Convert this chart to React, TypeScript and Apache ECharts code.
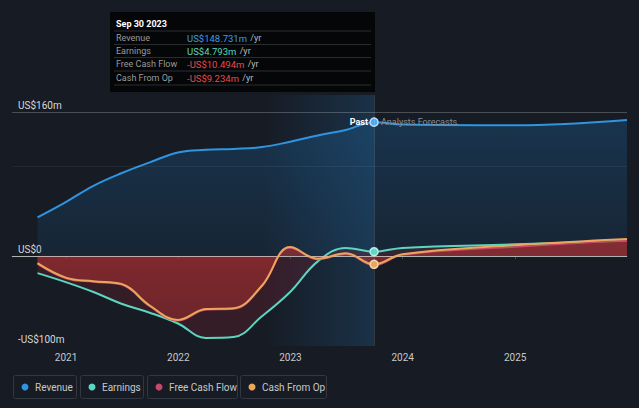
import React, { useEffect, useRef } from 'react';
import * as echarts from 'echarts';

const dates = [
  '2020-09-30', '2020-12-31', '2021-03-31', '2021-06-30', '2021-09-30', '2021-12-31',
  '2022-03-31', '2022-06-30', '2022-09-30', '2022-12-31', '2023-03-31', '2023-06-30',
  '2023-09-30', '2023-12-31', '2024-12-31', '2025-12-31',
];
const revenue = [43, 60, 78, 92, 104, 115, 118, 119, 121, 127, 134, 140, 148.731, 146, 145.2, 151];
const earnings = [-19, -29, -40, -53, -63, -75, -91, -90, -67, -40, -6, 9, 4.793, 9, 13, 17];
const freeCashFlow = [-9, -25, -29, -32, -56, -72, -60, -59, -34, 9, -4, 2, -10.494, 1, 10, 17.5];
const cashFromOp = [-8, -24, -28, -31, -55, -71, -59, -58, -33, 10, -3, 3, -9.234, 2, 12, 19];
const presentIndex = 12;
const yTickLabels: Record<string, string> = { '160': 'US$160m', '0': 'US$0', '-100': '-US$100m' };
const tooltipTitle = 'Sep 30 2023';
const tooltipRows = [
  { name: 'Revenue', value: 'US$148.731m', color: '#3d9be9' },
  { name: 'Earnings', value: 'US$4.793m', color: '#5ed6b9' },
  { name: 'Free Cash Flow', value: '-US$10.494m', color: '#e84a4a' },
  { name: 'Cash From Op', value: '-US$9.234m', color: '#e84a4a' },
];
const legendItems = [
  { name: 'Revenue', color: '#2f95e0' },
  { name: 'Earnings', color: '#5cd6c0' },
  { name: 'Free Cash Flow', color: '#c8476e' },
  { name: 'Cash From Op', color: '#eaa75a' },
];

const FONT = 'Roboto, "Open Sans", sans-serif';

function mk(values: number[], pointStyle: any) {
  return values.map((v, i) =>
    i === presentIndex
      ? { value: [dates[i], v], symbol: 'circle', symbolSize: 8, itemStyle: pointStyle }
      : { value: [dates[i], v] }
  );
}

export default function App() {
  const ref = useRef<HTMLDivElement>(null);
  useEffect(() => {
    const chart = echarts.init(ref.current!, null, { renderer: 'svg' });

    const graphics: any[] = [];
    // tooltip box
    graphics.push({ type: 'rect', shape: { x: 110, y: 12, width: 265, height: 80 }, style: { fill: '#050608' }, z: 100 });
    graphics.push({ type: 'text', x: 116, y: 24, style: { text: tooltipTitle, fill: '#ffffff', font: `bold 9px ${FONT}`, verticalAlign: 'middle' }, z: 101 });
    const rowY = [38, 51, 64, 78];
    const sepY = [31, 44.5, 57.5, 71, 85];
    sepY.forEach((y) => graphics.push({ type: 'line', shape: { x1: 114, y1: y, x2: 371, y2: y }, style: { stroke: '#2a2c30', lineWidth: 1 }, z: 101 }));
    tooltipRows.forEach((r, i) => {
      graphics.push({ type: 'text', x: 116, y: rowY[i], style: { text: r.name, fill: '#9a9a9a', font: `9px ${FONT}`, verticalAlign: 'middle' }, z: 101 });
      graphics.push({
        type: 'text', x: 187, y: rowY[i],
        style: {
          text: `{v|${r.value}} {u|/yr}`, verticalAlign: 'middle',
          rich: { v: { fill: r.color, font: `9.5px ${FONT}` }, u: { fill: '#bbbbbb', font: `9px ${FONT}` } },
        }, z: 101,
      });
    });
    // Past / Analysts Forecasts
    graphics.push({ type: 'text', x: 368, y: 122, style: { text: 'Past', fill: '#ffffff', font: `bold 9px ${FONT}`, align: 'right', verticalAlign: 'middle' }, z: 50 });
    graphics.push({ type: 'text', x: 381, y: 122, style: { text: 'Analysts Forecasts', fill: '#8a8f96', font: `9px ${FONT}`, align: 'left', verticalAlign: 'middle' }, z: 50 });
    // legend
    const boxes = [[13, 63], [80, 63], [147, 90], [240, 86]];
    legendItems.forEach((it, i) => {
      const [bx, bw] = boxes[i];
      graphics.push({ type: 'rect', shape: { x: bx + 0.5, y: 375.5, width: bw, height: 23, r: 2 }, style: { fill: 'transparent', stroke: '#33373f', lineWidth: 1 } });
      graphics.push({ type: 'circle', shape: { cx: bx + 12, cy: 387, r: 3.5 }, style: { fill: it.color } });
      graphics.push({ type: 'text', x: bx + 22, y: 387, style: { text: it.name, fill: '#c8c8c8', font: `10px ${FONT}`, verticalAlign: 'middle' } });
    });

    const option: any = {
      animation: false,
      backgroundColor: '#161b24',
      textStyle: { fontFamily: FONT },
      grid: { left: 12, right: 12, top: 95, bottom: 62, containLabel: false },
      xAxis: {
        type: 'time',
        min: '2020-07-09',
        max: '2025-12-31',
        splitNumber: 6,
        minInterval: 365 * 86400000,
        axisLine: { show: true, lineStyle: { color: '#4a4f58', width: 1 } },
        axisTick: { show: true, length: 3, lineStyle: { color: '#4a4f58' } },
        axisLabel: { color: '#c8c8c8', fontSize: 10, margin: 6, formatter: '{yyyy}', showMinLabel: false, showMaxLabel: false },
        splitLine: { show: false },
      },
      yAxis: {
        type: 'value',
        min: -100,
        max: 178.9,
        interval: 20,
        axisLine: { show: false },
        axisTick: { show: false },
        splitLine: { show: false },
        axisLabel: {
          inside: true, margin: 6, color: '#d8d8d8', fontSize: 10, verticalAlign: 'bottom', padding: [0, 0, 2, 0],
          showMaxLabel: false,
          formatter: (v: number) => yTickLabels[String(v)] ?? '',
        },
      },
      graphic: graphics,
      series: [
        {
          type: 'line', name: 'Revenue', data: mk(revenue, { color: '#4aa8f0', borderColor: '#b8dcf8', borderWidth: 1.5 }),
          symbol: 'none', smooth: 0.4, lineStyle: { color: '#2f95e0', width: 2 },
          areaStyle: {
            origin: 0,
            color: new echarts.graphic.LinearGradient(0, 0, 0, 1, [
              { offset: 0, color: 'rgba(30,105,165,0.45)' },
              { offset: 1, color: 'rgba(30,105,165,0.18)' },
            ]),
          },
          z: 2,
          markArea: {
            silent: true,
            itemStyle: {
              color: new echarts.graphic.LinearGradient(0, 0, 1, 0, [
                { offset: 0, color: 'rgba(40,130,200,0)' },
                { offset: 1, color: 'rgba(40,130,200,0.22)' },
              ]),
            },
            data: [[{ xAxis: dates[8] }, { xAxis: dates[presentIndex] }]],
          },
          markLine: {
            silent: true, symbol: 'none', label: { show: false },
            data: [
              { xAxis: dates[presentIndex], lineStyle: { color: 'rgba(255,255,255,0.12)', width: 1, type: 'solid' } },
              { yAxis: 160, lineStyle: { color: 'rgba(255,255,255,0.22)', width: 1, type: 'solid' } },
              { yAxis: 100, lineStyle: { color: 'rgba(255,255,255,0.06)', width: 1, type: 'solid' } },
            ],
          },
        },
        {
          type: 'line', name: 'Earnings', data: mk(earnings, { color: '#5cd6c0', borderColor: '#b5efe5', borderWidth: 1.5 }),
          symbol: 'none', smooth: 0.4, lineStyle: { color: '#5cd6c0', width: 2 },
          areaStyle: { origin: 0, color: 'rgba(120,35,50,0.45)' },
          z: 3,
        },
        {
          type: 'line', name: 'Free Cash Flow', data: freeCashFlow.map((v, i) => [dates[i], v]),
          symbol: 'none', smooth: 0.4, lineStyle: { color: '#c8476e', width: 1.5 },
          areaStyle: {
            origin: 0,
            color: new echarts.graphic.LinearGradient(0, 0, 0, 1, [
              { offset: 0, color: 'rgba(185,50,50,0.85)' },
              { offset: 1, color: 'rgba(160,45,45,0.75)' },
            ]),
          },
          z: 4,
        },
        {
          type: 'line', name: 'Cash From Op', data: mk(cashFromOp, { color: '#eaa75a', borderColor: '#f6d7b5', borderWidth: 1.5 }),
          symbol: 'none', smooth: 0.4, lineStyle: { color: '#eaa75a', width: 2 },
          z: 5,
          markLine: {
            silent: true, symbol: 'none', label: { show: false },
            data: [{ yAxis: 0, lineStyle: { color: 'rgba(220,220,220,0.7)', width: 1, type: 'solid' } }],
          },
        },
      ],
    };
    chart.setOption(option);
    return () => chart.dispose();
  }, []);
  return <div ref={ref} style={{ position: 'fixed', left: 0, top: 0, width: 639, height: 408 }} />;
}
